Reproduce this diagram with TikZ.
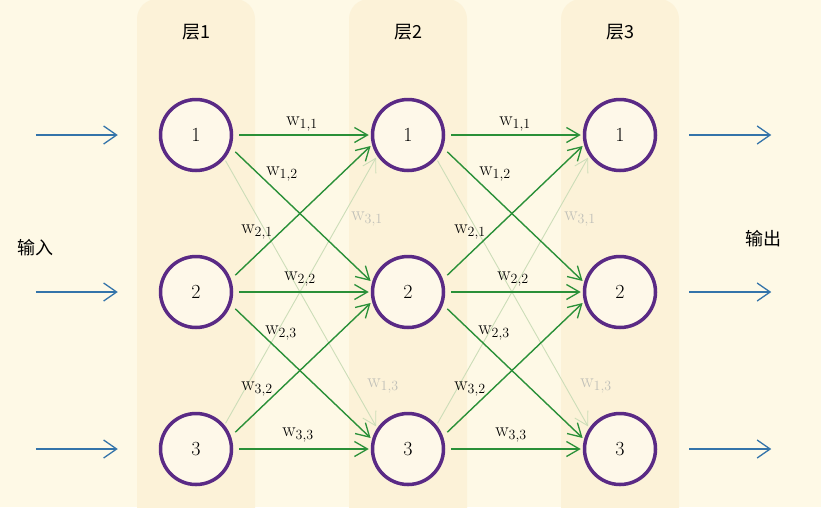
\documentclass[tikz,border=0pt]{standalone}
\usepackage{fontspec}
\newfontfamily\cjk{Noto Sans CJK SC}
\usetikzlibrary{arrows.meta}

\definecolor{bgcream}{HTML}{FEF9E6}
\definecolor{colcream}{HTML}{FCF2D8}
\definecolor{cellfill}{HTML}{FEF8E9}
\definecolor{neuroncol}{HTML}{5A2A85}
\definecolor{wgreen}{HTML}{2A9038}
\definecolor{wfaint}{HTML}{CCDDB8}
\definecolor{faintlbl}{HTML}{BFBFB8}
\definecolor{ioblue}{HTML}{3474AA}

\tikzset{
  neuron/.style={circle, draw=neuroncol, line width=3.5pt, fill=cellfill,
    minimum size=71pt, inner sep=0pt, font=\fontsize{20}{22}\selectfont},
  layertitle/.style={font=\cjk\fontsize{18}{20}\selectfont},
  iotext/.style={font=\cjk\fontsize{18}{20}\selectfont},
  wstrong/.style={wgreen, line width=1.4pt, shorten <=6pt, shorten >=2pt,
    -{Straight Barb[length=13pt,width=15pt,line width=1.3pt]}},
  wweak/.style={wfaint, line width=0.9pt, shorten <=2pt, shorten >=2pt,
    -{Straight Barb[length=13pt,width=15pt,line width=0.9pt]}},
  ioarrow/.style={ioblue, line width=1.3pt,
    -{Straight Barb[length=13pt,width=18pt,line width=1.3pt]}},
  wlabel/.style={inner sep=0pt, font=\fontsize{20}{22}\selectfont}
}

\begin{document}
\begin{tikzpicture}[x=1pt,y=-1pt]

\useasboundingbox (0,0) rectangle (821,507);
\clip (0,0) rectangle (821,507);
\fill[bgcream] (0,0) rectangle (821,507);

% Camadas
\foreach \cx/\k in {196/1, 408/2, 620/3}{
  \fill[colcream, rounded corners=20pt] (\cx-59,-1) rectangle (\cx+59,540);
  \node[layertitle] (t\k) at (\cx,32) {层\k};
}

% Neuronios
\foreach \cx/\c in {196/a, 408/b, 620/c}{
  \foreach \cy/\r in {135/1, 292/2, 449/3}{
    \node[neuron] (\c\r) at (\cx,\cy) {\r};
  }
}

% Entradas e saidas
\foreach \r in {1,2,3}{
  \draw[ioarrow] ([xshift=-123pt]a\r.west) -- ([xshift=-41pt]a\r.west);
  \draw[ioarrow] ([xshift=32pt]c\r.east) -- ([xshift=114pt]c\r.east);
}
\node[iotext] (entrada) at (35,248) {输入};
\node[iotext] (saida) at (763,239) {输出};

% Pesos
\foreach \s/\t in {a/b, b/c}{
  \draw[wweak] (\s1.-40) -- (\t3.146);
  \draw[wweak] (\s3.40) -- (\t1.214);
  \foreach \i/\j/\o/\n in {1/1/0/180, 1/2/-20/165, 2/1/20/195, 2/2/0/180,
                           2/3/-20/165, 3/2/20/195, 3/3/0/180}{
    \draw[wstrong] (\s\i.\o) -- (\t\j.\n);
  }
}

% Rotulos dos pesos
\foreach \dx/\s in {0/a, 213/b}{
  \foreach \lx/\ly/\i/\j/\col in {302/124/1/1/black, 282/174/1/2/black,
      257/232/2/1/black, 367/219/3/1/faintlbl, 300/279/2/2/black,
      281/333/2/3/black, 257/389/3/2/black, 383/386/1/3/faintlbl,
      298/435/3/3/black}{
    \node[wlabel, text=\col] (\s w\i\j) at (\lx+\dx,\ly) {w\textsubscript{\i,\j}};
  }
}

\end{tikzpicture}
\end{document}
